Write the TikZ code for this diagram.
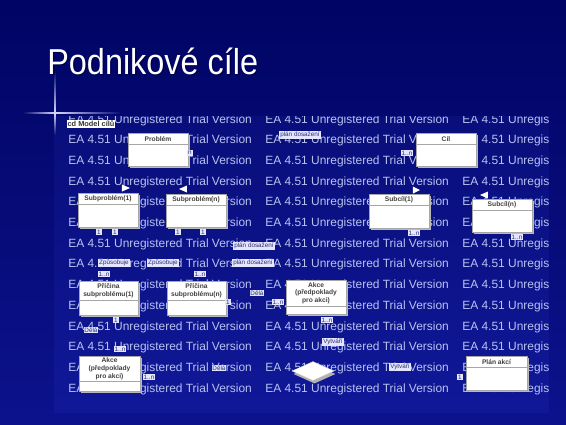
\documentclass[tikz,border=0pt]{standalone}
\usepackage{fontspec}
\setmainfont{Liberation Sans}
\newfontfamily\titlefont{Liberation Sans}[FakeStretch=0.9]
\usepackage{xcolor}
\usepackage{tikz}
\usetikzlibrary{shapes}
\usetikzlibrary{shadows}
\definecolor{slidetop}{RGB}{0,4,100}
\definecolor{slidebot}{RGB}{12,18,140}
\definecolor{shottop}{RGB}{8,14,122}
\definecolor{shotbot}{RGB}{16,24,152}
\definecolor{wmtext}{RGB}{185,195,240}
\definecolor{tagtext}{RGB}{40,50,110}
\tikzset{
	class node/.style={draw=gray!70,fill=white,line width=0.3pt,minimum width=1.2cm,inner sep=0pt,
		drop shadow={shadow xshift=0.045cm,shadow yshift=-0.045cm,fill=gray!55,opacity=1}},
	head/.style={font=\fontsize{3.8}{4.4}\selectfont\bfseries,text=black!75,align=center,inner sep=0pt},
	split/.style={draw=gray!70,line width=0.3pt},
	tag/.style={fill=white!90!blue,text=tagtext,font=\fontsize{3.6}{4}\selectfont,inner sep=0.5pt},
	wm/.style={text=wmtext,font=\fontsize{6.8}{8}\selectfont,anchor=base west,inner sep=0pt},
	tip/.style={fill=white,draw=none}
}

\begin{document}
\begin{tikzpicture}[x=0.02cm,y=-0.02cm]
	\useasboundingbox (0,0) rectangle (566,424);
	\shade[top color=slidetop,bottom color=slidebot] (0,0) rectangle (566,424);
	\shade[top color=shottop,bottom color=shotbot] (54,116) rectangle (549,412);
	% watermark of the model screenshot
	\begin{scope}
		\clip (54,116) rectangle (549,412);
		\foreach \r in {0,...,13}
			\foreach \c in {0,1,2}
				\node[wm] at (68+197*\c,123+20.7*\r) {EA 4.51 Unregistered Trial Version};
	\end{scope}
	% light cross
	\shade[left color=slidetop,right color=white!85!blue] (22,112.3) rectangle (55,113.7);
	\shade[left color=white!85!blue,right color=shottop] (55,112.3) rectangle (120,113.7);
	\shade[top color=slidetop,bottom color=white!85!blue] (54.3,70) rectangle (55.7,113);
	\shade[top color=white!85!blue,bottom color=shottop] (54.3,113) rectangle (55.7,135);
	\node[text=black!70!blue,anchor=base west,inner sep=0pt,font=\titlefont\fontsize{20.5}{24}\selectfont] at (48.5,75.5) {Podnikové cíle};
	\node[text=white,anchor=base west,inner sep=0pt,font=\titlefont\fontsize{20.5}{24}\selectfont] (title) at (47,74) {Podnikové cíle};

	% classes
	\node[class node,minimum height=0.66cm] (prob) at (158,149.5) {};
	\draw[split] ([yshift=-0.24cm]prob.north west) -- ([yshift=-0.24cm]prob.north east);
	\node[head] at ([yshift=-0.12cm]prob.north) {Problém};
	\node[class node,minimum height=0.66cm] (cil) at (446,149.5) {};
	\draw[split] ([yshift=-0.24cm]cil.north west) -- ([yshift=-0.24cm]cil.north east);
	\node[head] at ([yshift=-0.12cm]cil.north) {Cíl};
	\node[class node,minimum height=0.68cm] (sp1) at (108,210) {};
	\draw[split] ([yshift=-0.24cm]sp1.north west) -- ([yshift=-0.24cm]sp1.north east);
	\node[head] at ([yshift=-0.12cm]sp1.north) {Subproblém(1)};
	\node[class node,minimum height=0.66cm] (spn) at (196,210.5) {};
	\draw[split] ([yshift=-0.24cm]spn.north west) -- ([yshift=-0.24cm]spn.north east);
	\node[head] at ([yshift=-0.12cm]spn.north) {Subproblém(n)};
	\node[class node,minimum height=0.68cm] (sc1) at (399,211) {};
	\draw[split] ([yshift=-0.24cm]sc1.north west) -- ([yshift=-0.24cm]sc1.north east);
	\node[head] at ([yshift=-0.12cm]sc1.north) {Subcíl(1)};
	\node[class node,minimum height=0.66cm] (scn) at (502,215.5) {};
	\draw[split] ([yshift=-0.24cm]scn.north west) -- ([yshift=-0.24cm]scn.north east);
	\node[head] at ([yshift=-0.12cm]scn.north) {Subcíl(n)};
	\node[class node,minimum width=1.18cm,minimum height=0.68cm] (pr1) at (108.5,298) {};
	\draw[split] ([yshift=-0.4cm]pr1.north west) -- ([yshift=-0.4cm]pr1.north east);
	\node[head] at ([yshift=-0.2cm]pr1.north) {Příčina\\subproblému(1)};
	\node[class node,minimum width=1.18cm,minimum height=0.68cm] (prn) at (196.5,298) {};
	\draw[split] ([yshift=-0.4cm]prn.north west) -- ([yshift=-0.4cm]prn.north east);
	\node[head] at ([yshift=-0.2cm]prn.north) {Příčina\\subproblému(n)};
	\node[class node,minimum height=0.68cm] (ak1) at (316,297) {};
	\draw[split] ([yshift=-0.54cm]ak1.north west) -- ([yshift=-0.54cm]ak1.north east);
	\node[head] at ([yshift=-0.27cm]ak1.north) {Akce\\(předpoklady\\pro akci)};
	\node[class node,minimum width=1.22cm,minimum height=0.7cm] (ak2) at (109.5,373.5) {};
	\draw[split] ([yshift=-0.52cm]ak2.north west) -- ([yshift=-0.52cm]ak2.north east);
	\node[head] at ([yshift=-0.26cm]ak2.north) {Akce\\(předpoklady\\pro akci)};
	\node[class node,minimum width=1.22cm,minimum height=0.68cm] (plan) at (496.5,373) {};
	\draw[split] ([yshift=-0.24cm]plan.north west) -- ([yshift=-0.24cm]plan.north east);
	\node[head] at ([yshift=-0.12cm]plan.north) {Plán akcí};
	\node[diamond,fill=white,draw=gray!40,line width=0.2pt,minimum width=0.84cm,minimum height=0.38cm,inner sep=0pt,
		drop shadow={shadow xshift=0.03cm,shadow yshift=-0.06cm,fill=gray!60,opacity=1}] (dec) at (313,371) {};

	% arrow tips
	\fill[tip] (122,184.5) -- (130,188) -- (122,191.5) -- cycle;
	\fill[tip] (187,185.5) -- (179,189) -- (187,192.5) -- cycle;
	\fill[tip] (413,186.5) -- (420,190) -- (413,193.5) -- cycle;
	\fill[tip] (488,191.5) -- (480,195) -- (488,198.5) -- cycle;

	% labels
	\node[tag,fill=white,text=black!80,font=\fontsize{4.2}{5}\selectfont\bfseries] (t1) at (91,124) {cd Model cílů};
	\node[tag] (t2) at (300,135) {plán dosažení};
	\node[tag] (t3) at (190,153) {n};
	\node[tag] (t4) at (407,153) {1..n};
	\node[tag] (t5) at (99,232) {1};
	\node[tag] (t6) at (115,232) {1};
	\node[tag] (t7) at (178,232) {1};
	\node[tag] (t8) at (203,232) {1};
	\node[tag] (t9) at (414,233) {1..n};
	\node[tag] (t10) at (517,237) {1..n};
	\node[tag] (t11) at (254,246) {plán dosažení};
	\node[tag] (t12) at (253,263) {plán dosažení};
	\node[tag] (t13) at (114,263) {Způsobuje};
	\node[tag] (t14) at (163,263) {Způsobuje};
	\node[tag] (t15) at (104,274) {1..n};
	\node[tag] (t16) at (200,274) {1..n};
	\node[tag] (t17) at (257,293) {Dělá};
	\node[tag] (t18) at (228,302) {1};
	\node[tag] (t19) at (278,302) {1..n};
	\node[tag] (t20) at (327,320) {1..n};
	\node[tag] (t21) at (116,320) {1};
	\node[tag] (t22) at (91,330) {Dělá};
	\node[tag] (t23) at (333,342) {Vytváří};
	\node[tag] (t24) at (120,349) {1..n};
	\node[tag] (t25) at (219,368) {Dělá};
	\node[tag] (t26) at (149,377) {1..n};
	\node[tag] (t27) at (400,367) {Vytváří};
	\node[tag] (t28) at (460,377) {1};
\end{tikzpicture}
\end{document}
